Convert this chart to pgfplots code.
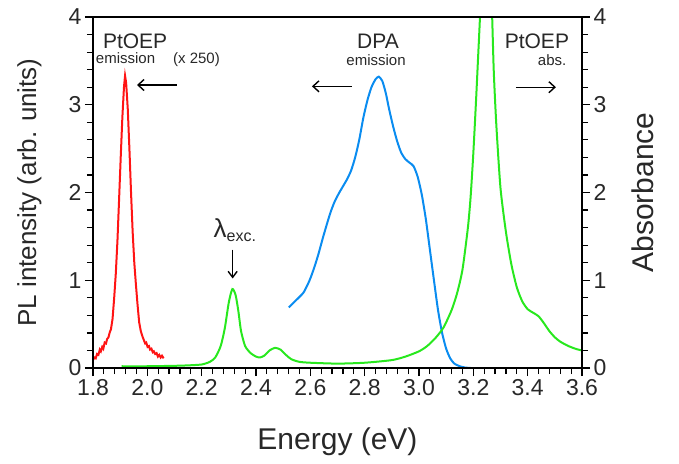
\documentclass[border=0pt]{standalone}
\usepackage{fontspec}
\setmainfont{Liberation Sans}
\usepackage{pgfplots}
\pgfplotsset{compat=1.18}
\usetikzlibrary{arrows.meta,calc}

\definecolor{ptred}{RGB}{255,20,20}
\definecolor{dpablue}{RGB}{10,140,240}
\definecolor{absgreen}{RGB}{40,232,30}
\definecolor{txt}{RGB}{40,40,40}

\begin{document}
\begin{tikzpicture}
\begin{axis}[name=ax,
  scale only axis, width=489pt, height=351pt,
  xmin=1.8, xmax=3.6, ymin=0, ymax=4,
  tick align=outside, minor x tick num=4, minor y tick num=4,
  major tick length=8pt, minor tick length=6pt,
  every tick/.style={black, line width=1.2pt},
  tick label style={font=\fontsize{23}{23}\selectfont, text=txt},
  xtick pos=bottom, ytick pos=both, yticklabel pos=left,
  xtick={1.8,2.0,2.2,2.4,2.6,2.8,3.0,3.2,3.4,3.6},
  xticklabels={1.8,2.0,2.2,2.4,2.6,2.8,3.0,3.2,3.4,3.6},
  ytick={0,1,2,3,4}, yticklabels={0,1,2,3,4},
  xlabel={Energy (eV)},
  ylabel={PL intensity (arb. units)},
  x label style={at={(axis description cs:0.5,-0.211)}, anchor=center, font=\fontsize{30}{30}\selectfont, text=txt},
  y label style={at={(axis description cs:-0.13,0.5)}, anchor=center, font=\fontsize{26}{26}\selectfont, text=txt},
]
% PtOEP emission (x 250)
\addplot[ptred, line width=2pt] table {
x y
1.800 0.09
1.805 0.12
1.810 0.11
1.815 0.16
1.820 0.15
1.825 0.21
1.829 0.19
1.834 0.24
1.838 0.22
1.843 0.29
1.848 0.28
1.852 0.33
1.857 0.35
1.862 0.41
1.866 0.44
1.872 0.56
1.878 0.80
1.884 1.08
1.890 1.45
1.896 1.92
1.902 2.40
1.908 2.85
1.914 3.20
1.918 3.33
1.922 3.25
1.928 2.95
1.934 2.50
1.940 2.00
1.946 1.55
1.952 1.20
1.958 0.95
1.964 0.72
1.970 0.52
1.976 0.42
1.982 0.36
1.987 0.32
1.992 0.28
1.996 0.29
2.001 0.24
2.006 0.25
2.010 0.21
2.015 0.22
2.020 0.18
2.024 0.19
2.029 0.16
2.034 0.17
2.039 0.13
2.044 0.15
2.049 0.12
2.054 0.14
2.060 0.11
};
% DPA emission
\addplot[dpablue, line width=2pt, smooth, tension=0.4] table {
x y
2.521 0.69
2.540 0.75
2.560 0.81
2.575 0.86
2.590 0.95
2.600 1.02
2.615 1.15
2.630 1.30
2.645 1.47
2.660 1.63
2.675 1.78
2.690 1.90
2.705 1.99
2.720 2.07
2.735 2.15
2.750 2.25
2.765 2.40
2.780 2.60
2.795 2.85
2.810 3.05
2.825 3.20
2.840 3.29
2.852 3.32
2.865 3.27
2.878 3.13
2.890 2.95
2.905 2.75
2.920 2.58
2.935 2.45
2.950 2.38
2.965 2.34
2.980 2.30
2.995 2.18
3.010 1.98
3.025 1.70
3.040 1.35
3.055 1.00
3.070 0.66
3.085 0.40
3.100 0.22
3.115 0.11
3.130 0.05
3.150 0.02
3.170 0.005
3.190 0.0
};
% PtOEP absorbance (right scale, same 0-4 range)
\addplot[absgreen, line width=2pt, smooth, tension=0.4] table {
x y
1.905 0.02
2.000 0.02
2.100 0.025
2.150 0.03
2.200 0.04
2.230 0.07
2.250 0.12
2.270 0.25
2.285 0.45
2.300 0.75
2.313 0.90
2.325 0.83
2.335 0.65
2.345 0.42
2.360 0.25
2.380 0.17
2.400 0.13
2.415 0.12
2.430 0.14
2.450 0.20
2.470 0.23
2.490 0.21
2.510 0.15
2.530 0.10
2.560 0.07
2.600 0.06
2.700 0.05
2.800 0.06
2.900 0.09
2.950 0.13
3.000 0.19
3.030 0.25
3.060 0.34
3.090 0.46
3.120 0.66
3.140 0.85
3.160 1.12
3.180 1.60
3.190 1.95
3.200 2.45
3.210 3.05
3.220 3.70
3.230 4.30
3.250 4.90
3.265 4.40
3.275 3.40
3.285 2.75
3.300 2.05
3.320 1.55
3.340 1.18
3.360 0.92
3.380 0.76
3.400 0.67
3.420 0.63
3.440 0.59
3.460 0.51
3.480 0.42
3.500 0.35
3.520 0.30
3.550 0.25
3.580 0.215
3.600 0.20
};
% annotations
\node[text=txt, font=\fontsize{21}{21}\selectfont] at (axis cs:1.955,3.72) {PtOEP};
\node[text=txt, font=\fontsize{15}{15}\selectfont] at (axis cs:2.039,3.51) {emission\hspace{1.2em}(x 250)};
\draw[line width=1.4pt, -{Straight Barb[length=6pt,width=11pt]}] (axis cs:2.109,3.225) -- (axis cs:1.962,3.225);
\node[text=txt, font=\fontsize{21}{21}\selectfont] at (axis cs:2.849,3.72) {DPA};
\node[text=txt, font=\fontsize{15}{15}\selectfont] at (axis cs:2.842,3.51) {emission};
\draw[line width=1.4pt, -{Straight Barb[length=6pt,width=11pt]}] (axis cs:2.753,3.21) -- (axis cs:2.606,3.21);
\node[text=txt, font=\fontsize{21}{21}\selectfont] at (axis cs:3.434,3.72) {PtOEP};
\node[text=txt, font=\fontsize{15}{15}\selectfont] at (axis cs:3.49,3.51) {abs.};
\draw[line width=1.4pt, -{Straight Barb[length=6pt,width=11pt]}] (axis cs:3.357,3.20) -- (axis cs:3.504,3.20);
\node[text=txt, font=\fontsize{26}{26}\selectfont] at (axis cs:2.323,1.57) {λ\textsubscript{\fontsize{16}{16}\selectfont exc.}};
\draw[line width=1.4pt, -{Straight Barb[length=6pt,width=9pt]}] (axis cs:2.314,1.35) -- (axis cs:2.314,1.02);
\end{axis}

% right-hand scale: labels only
\begin{axis}[
  scale only axis, width=489pt, height=351pt,
  xmin=1.8, xmax=3.6, ymin=0, ymax=4,
  hide x axis, axis y line*=right,
  major tick length=0pt, minor y tick num=0,
  tick label style={font=\fontsize{23}{23}\selectfont, text=txt},
  yticklabel style={xshift=8pt},
  ytick={0,1,2,3,4}, yticklabels={0,1,2,3,4},
  ylabel={Absorbance},
  y label style={at={(axis description cs:1.125,0.5)}, anchor=center, font=\fontsize{30}{30}\selectfont, text=txt},
]
\end{axis}

% frame and outward tick marks along the axis box
\draw[line width=1.5pt] (ax.south west) rectangle (ax.north east);
\foreach \i in {0,...,45}{
  \pgfmathsetmacro\f{\i/45}
  \pgfmathsetmacro\len{mod(\i,5)==0 ? 8 : 6}
  \draw[line width=1.2pt] ($(ax.south west)!\f!(ax.south east)$) -- ++(0,-\len pt);
}
\foreach \i in {0,...,20}{
  \pgfmathsetmacro\f{\i/20}
  \pgfmathsetmacro\len{mod(\i,5)==0 ? 8 : 6}
  \draw[line width=1.2pt] ($(ax.south west)!\f!(ax.north west)$) -- ++(-\len pt,0);
  \draw[line width=1.2pt] ($(ax.south east)!\f!(ax.north east)$) -- ++(\len pt,0);
}
\path ($(ax.south west)+(-93pt,-95pt)$) rectangle ($(ax.north east)+(97pt,17pt)$);
\end{tikzpicture}
\end{document}
